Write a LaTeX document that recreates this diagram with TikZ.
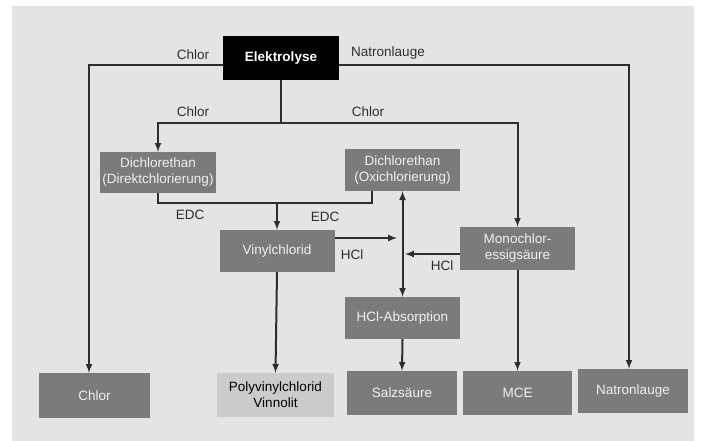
\documentclass[tikz,border=0pt]{standalone}
\usepackage{fontspec}
\setmainfont{Liberation Sans}
\usetikzlibrary{calc}
\definecolor{panel}{HTML}{E4E4E4}
\definecolor{boxgray}{HTML}{7B7B7B}
\definecolor{boxlight}{HTML}{CBCBCB}
\definecolor{boxtext}{HTML}{F0F0F0}
\definecolor{linecol}{HTML}{2E2E2E}

\begin{document}
\begin{tikzpicture}[x=1pt,y=-1pt,
	box/.style={fill=boxgray,text=boxtext,minimum width=115pt,minimum height=42pt,inner sep=1pt,align=center,font=\fontsize{13.5}{16}\selectfont},
	lab/.style={text=linecol,inner sep=0pt,font=\fontsize{13.5}{16}\selectfont},
	flow/.style={line width=2pt,draw=linecol},
	arr/.style={flow,-latex},
	]
\useasboundingbox (0,0) rectangle (706,441);
\fill[panel] (12,6) rectangle (694,441);

% boxes
\node[box,fill=black,text=white,minimum width=116pt,minimum height=44pt,font=\fontsize{13.5}{16}\selectfont\bfseries] (elek) at (281,58) {Elektrolyse};
\node[box,minimum width=116pt,minimum height=41pt] (dcd) at (158,172.5) {Dichlorethan\\(Direktchlorierung)};
\node[box] (dco) at (402.5,170) {Dichlorethan\\(Oxichlorierung)};
\node[box] (vin) at (277,251) {Vinylchlorid};
\node[box,minimum height=43pt] (mono) at (517.5,248.5) {Monochlor-\\essigsäure};
\node[box] (hclab) at (402.5,318) {HCl-Absorption};

\node[box,minimum width=111pt,minimum height=45pt] (chlorout) at (94.5,395.5) {Chlor};
\node[box,fill=boxlight,text=black,minimum width=117pt,minimum height=44pt] (pvc) at (275.5,395) {Polyvinylchlorid\\Vinnolit};
\node[box,minimum width=110pt,minimum height=44pt] (salz) at (402,393) {Salzsäure};
\node[box,minimum width=109pt,minimum height=44pt] (mce) at (517.5,393) {MCE};
\node[box,minimum width=110pt,minimum height=44pt] (natron) at (633,391) {Natronlauge};

% Elektrolyse outputs
\coordinate (cl1) at (89,65);
\coordinate (na1) at (629,65);
\coordinate (jc) at (281,123);
\draw[arr] (elek.west |- cl1) -- (cl1) -- (cl1 |- chlorout.north);
\draw[arr] (elek.east |- na1) -- (na1) -- (na1 |- natron.north);
\draw[flow] (elek.south) -- (jc);
\draw[arr] (jc) -| (dcd.north);
\draw[arr] (jc) -| (mono.north);

% EDC
\coordinate (je) at (277,203);
\draw[flow] (dcd.south) |- (je);
\draw[flow] ([xshift=-31pt]dco.south) |- (je);
\draw[arr] (je) -- (vin.north);

% HCl
\coordinate (hv) at (397,238);
\coordinate (hm) at (405,254);
\draw[arr] (vin.east |- hv) -- (hv);
\draw[arr] (mono.west |- hm) -- (hm);
\draw[flow,latex-latex] (dco.south) -- (hclab.north);

% products
\draw[arr] (vin.south) -- (pvc.north);
\draw[arr] (hclab.south) -- (salz.north);
\draw[arr] (mono.south) -- (mce.north);

% labels
\node[lab] (l1) at (193,55) {Chlor};
\node[lab] (l2) at (388,53) {Natronlauge};
\node[lab] (l3) at (193,112) {Chlor};
\node[lab] (l4) at (368,112) {Chlor};
\node[lab] (l5) at (190,215) {EDC};
\node[lab] (l6) at (325,217) {EDC};
\node[lab] (l7) at (352,255) {HCl};
\node[lab] (l8) at (442,266) {HCl};
\end{tikzpicture}
\end{document}
